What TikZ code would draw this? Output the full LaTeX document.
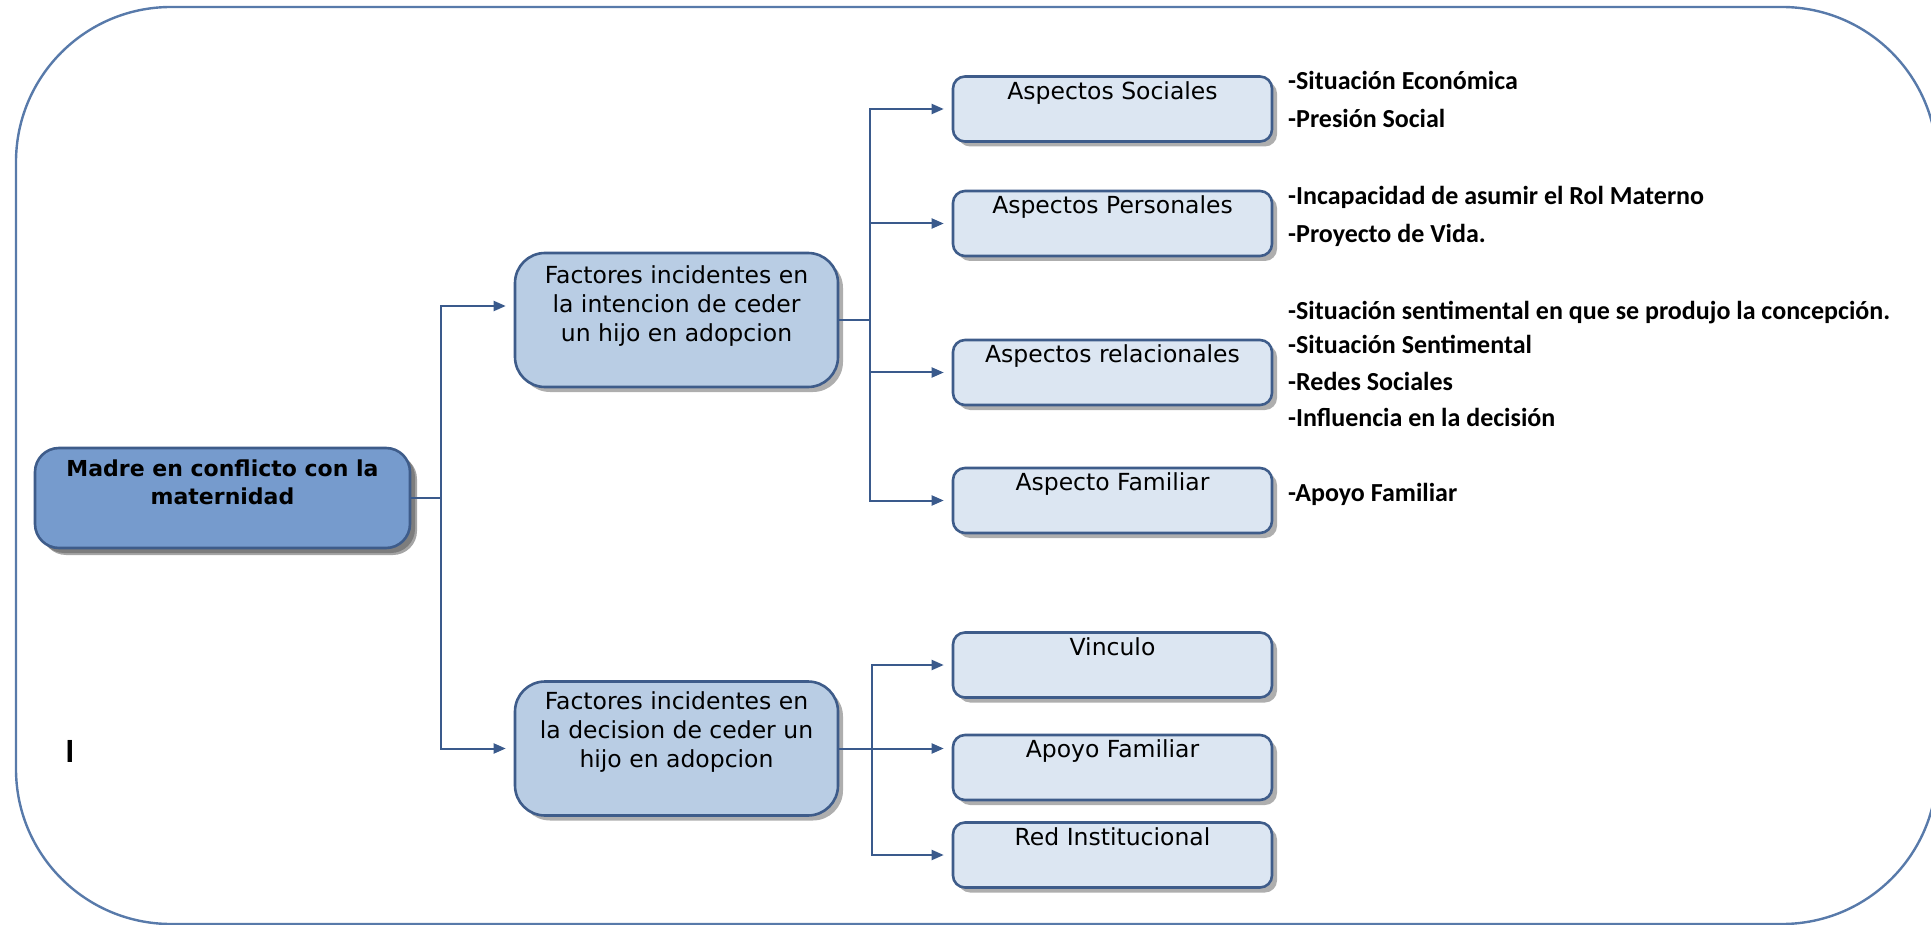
\documentclass[tikz,border=0pt]{standalone}
\usepackage{fontspec}
\setmainfont{DejaVu Sans}
\newfontfamily\listfont{Carlito}
\newfontfamily\markfont{Carlito}
\usetikzlibrary{arrows.meta,shadows}
\definecolor{linecol}{RGB}{58,90,140}
\definecolor{edgecol}{RGB}{62,92,138}
\definecolor{outercol}{RGB}{88,122,170}
\definecolor{mainfill}{RGB}{118,155,205}
\definecolor{midfill}{RGB}{185,205,228}
\definecolor{lightfill}{RGB}{220,230,242}
\tikzset{
  boxbase/.style={draw=edgecol, line width=2.6pt, inner sep=0pt,
    drop shadow={shadow xshift=5pt, shadow yshift=-5pt, opacity=0.45, fill=black!70}},
  mainbox/.style={boxbase, fill=mainfill, rounded corners=24pt, minimum width=375pt, minimum height=100pt,
    drop shadow={shadow xshift=7pt, shadow yshift=-7pt, opacity=0.5, fill=black!70}},
  midbox/.style={boxbase, fill=midfill, rounded corners=30pt, minimum width=323pt, minimum height=134pt},
  smallbox/.style={boxbase, fill=lightfill, rounded corners=12pt, minimum width=319pt, minimum height=65pt},
  maintext/.style={inner sep=0pt, align=center, font=\fontsize{22}{28}\selectfont\bfseries},
  boxtext/.style={inner sep=0pt, align=center, font=\fontsize{23.5}{29}\selectfont},
  listtext/.style={inner sep=0pt, anchor=base west, font=\fontsize{26}{30}\selectfont\listfont\bfseries},
  conn/.style={draw=linecol, line width=2pt},
  arr/.style={conn, -{Triangle[length=12pt,width=10pt]}, shorten >=8pt},
  outer/.style={draw=outercol, line width=2.4pt, rounded corners=155pt}
}
\begin{document}
\begin{tikzpicture}[x=1pt,y=-1pt]
\useasboundingbox (0,0) rectangle (1931,925);
\begin{scope}
  \clip (0,0) rectangle (1931,925);
  \draw[outer] (16,7) rectangle (1937,924);
\end{scope}

% boxes
\node[mainbox] (m) at (222.5,498) {};
\node[midbox] (b1) at (676.5,320) {};
\node[midbox] (b2) at (676.5,748.5) {};
\node[smallbox] (s1) at (1112.5,109) {};
\node[smallbox] (s2) at (1112.5,223.5) {};
\node[smallbox] (s3) at (1112.5,372.5) {};
\node[smallbox] (s4) at (1112.5,500.5) {};
\node[smallbox] (v) at (1112.5,665) {};
\node[smallbox] (a) at (1112.5,767.5) {};
\node[smallbox] (r) at (1112.5,855) {};

% box texts
\node[maintext, anchor=north] (mt) at ([yshift=-13pt]m.north) {Madre en conflicto con la\\maternidad};
\node[boxtext, anchor=north] (b1t) at ([yshift=-14pt]b1.north) {Factores incidentes en\\la intencion de ceder\\un hijo en adopcion};
\node[boxtext, anchor=north] (b2t) at ([yshift=-11pt]b2.north) {Factores incidentes en\\la decision de ceder un\\hijo en adopcion};
\node[boxtext, anchor=north] (s1t) at ([yshift=-6pt]s1.north) {Aspectos Sociales};
\node[boxtext, anchor=north] (s2t) at ([yshift=-6pt]s2.north) {Aspectos Personales};
\node[boxtext, anchor=north] (s3t) at ([yshift=-6pt]s3.north) {Aspectos relacionales};
\node[boxtext, anchor=north] (s4t) at ([yshift=-6pt]s4.north) {Aspecto Familiar};
\node[boxtext, anchor=north] (vt) at ([yshift=-6pt]v.north) {Vinculo};
\node[boxtext, anchor=north] (at) at ([yshift=-6pt]a.north) {Apoyo Familiar};
\node[boxtext, anchor=north] (rt) at ([yshift=-6pt]r.north) {Red Institucional};

% connectors
\coordinate (j0) at (441,498);
\coordinate (j1) at (870,320);
\coordinate (j2) at (872,748.5);
\draw[conn] (m.east) -- (j0);
\draw[arr] (j0) |- ([yshift=14pt]b1.west);
\draw[arr] (j0) |- (b2.west);
\draw[conn] (b1.east) -- (j1);
\draw[arr] (j1) |- (s1.west);
\draw[arr] (j1) |- (s2.west);
\draw[arr] (j1) |- (s3.west);
\draw[arr] (j1) |- (s4.west);
\draw[conn] (b2.east) -- (j2);
\draw[arr] (j2) |- (v.west);
\draw[arr] (j2) -- (j2 -| a.west);
\draw[arr] (j2) |- (r.west);

% lists
\node[listtext] (l1) at (1288,90) {-Situación Económica};
\node[listtext] (l2) at (1288,128) {-Presión Social};
\node[listtext] (l3) at (1288,205) {-Incapacidad de asumir el Rol Materno};
\node[listtext] (l4) at (1288,243) {-Proyecto de Vida.};
\node[listtext] (l5) at (1288,320) {-Situación sentimental en que se produjo la concepción.};
\node[listtext] (l6) at (1288,353) {-Situación Sentimental};
\node[listtext] (l7) at (1288,390) {-Redes Sociales};
\node[listtext] (l8) at (1288,426) {-Influencia en la decisión};
\node[listtext] (l9) at (1288,501) {-Apoyo Familiar};

\node[inner sep=0pt, anchor=base, font=\fontsize{34}{34}\selectfont\markfont\bfseries] (mark) at (70,762) {I};
\end{tikzpicture}
\end{document}
